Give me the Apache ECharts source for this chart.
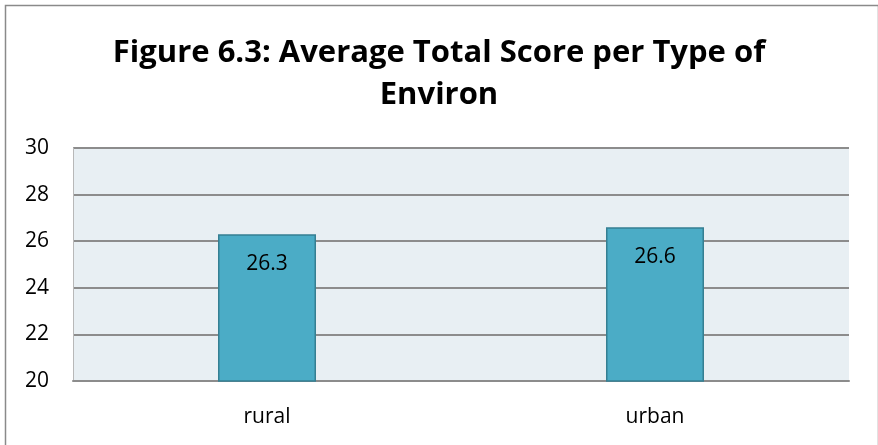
<!DOCTYPE html>
<html><head><meta charset="utf-8">
<script src="https://cdn.jsdelivr.net/npm/echarts@6/dist/echarts.min.js"></script>
<style>html,body{margin:0;padding:0;background:#fff}#c{width:878px;height:445px}</style>
</head><body><div id="c"></div>
<script>
const titleText = 'Figure 6.3: Average Total Score per Type of\nEnviron';
const categories = ['rural', 'urban'];
const scores = [26.3, 26.6];
const yTicks = [20, 22, 24, 26, 28, 30];

const chart = echarts.init(document.getElementById('c'));
const font = '"Open Sans", "Noto Sans", sans-serif';
chart.setOption({
  animation: false,
  backgroundColor: '#fff',
  graphic: [{
    type: 'rect', left: 3, top: 3,
    shape: { width: 873, height: 460 },
    style: { fill: 'none', stroke: '#8a8a8a', lineWidth: 1.5 }
  }],
  title: {
    text: titleText, left: 'center', top: 27,
    textStyle: { fontFamily: font, fontWeight: 'bold', fontSize: 31, lineHeight: 42, color: '#000' }
  },
  grid: { left: 73, right: 29, top: 148, bottom: 64, show: true, backgroundColor: '#E8EFF3', borderWidth: 0 },
  xAxis: {
    type: 'category', data: categories,
    axisLine: { show: true, lineStyle: { color: '#8c8c8c', width: 2 } },
    axisTick: { show: false },
    axisLabel: { fontFamily: font, fontSize: 21, color: '#000', margin: 26 }
  },
  yAxis: {
    type: 'value', min: yTicks[0], max: yTicks[yTicks.length - 1], interval: 2,
    axisLine: { show: true, lineStyle: { color: '#b8b8b8', width: 1 } },
    axisTick: { show: false },
    splitLine: { lineStyle: { color: '#8c8c8c', width: 2 } },
    axisLabel: { fontFamily: font, fontSize: 21, color: '#000', margin: 24 }
  },
  series: [{
    type: 'bar', data: scores, barWidth: 98,
    itemStyle: { color: '#4BACC6', borderColor: '#357F92', borderWidth: 1.5 },
    label: { show: true, position: 'insideTop', distance: 19, fontFamily: font, fontSize: 21, color: '#000' }
  }]
});
</script></body></html>
